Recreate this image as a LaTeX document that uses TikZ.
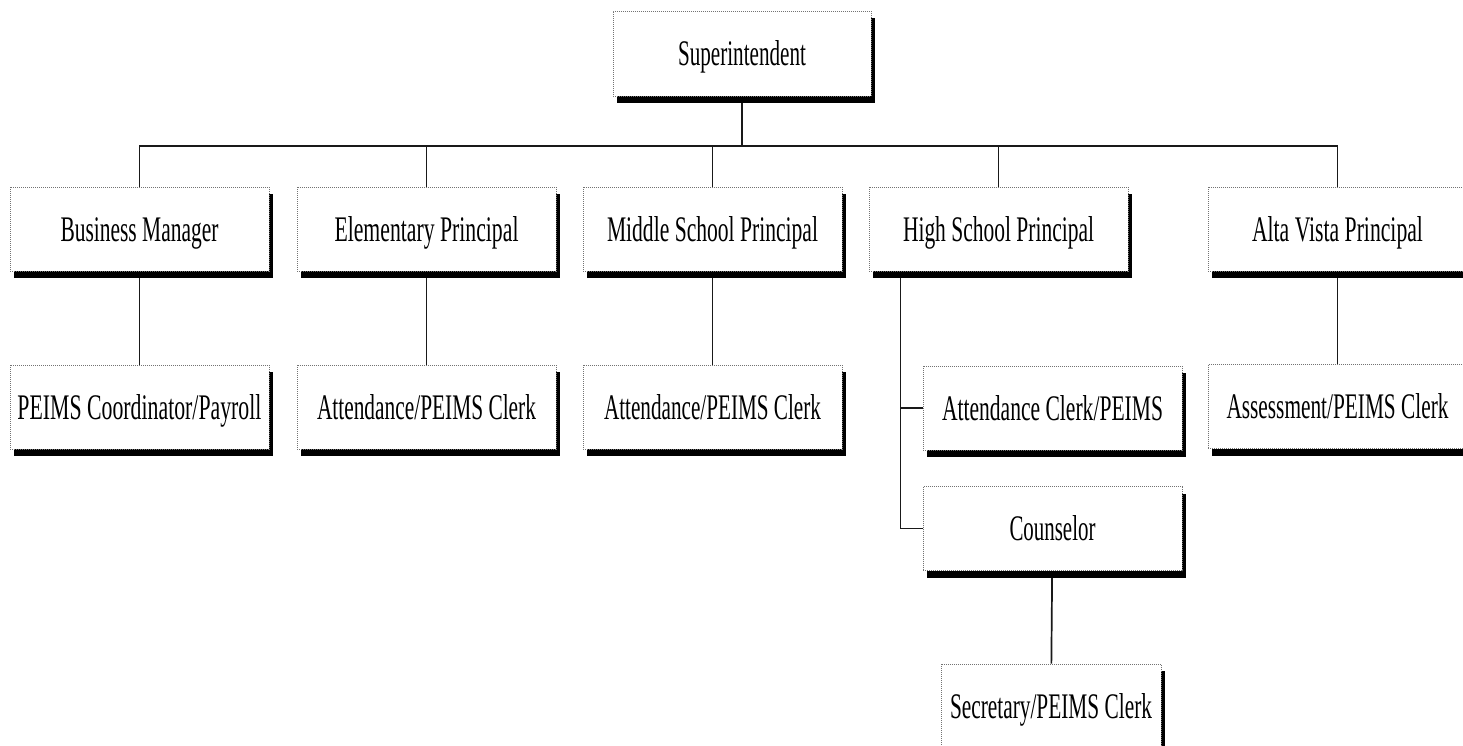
\documentclass[tikz,border=0pt]{standalone}
\usepackage{fontspec}
\setmainfont{Liberation Serif}
\usetikzlibrary{shadows,backgrounds}
% squeeze a label horizontally to a given width, keeping its height
\newcommand\fitw[2]{\resizebox{#1pt}{\height}{#2}}
\tikzset{
  post/.style={draw=black!55, line width=1pt, dash pattern=on 1pt off 1pt,
    fill=white, minimum width=259pt, minimum height=84pt, inner sep=0pt,
    text height=28pt, text depth=4pt, font=\fontsize{36}{40}\selectfont,
    drop shadow={shadow xshift=4pt, shadow yshift=-7pt, fill=black, opacity=1}},
  link/.style={draw=black!90, line width=1.7pt}
}
\begin{document}
\begin{tikzpicture}[x=1pt,y=-1pt]
\useasboundingbox (0,0) rectangle (1463,745);
\clip (0,0) rectangle (1463,745);

% top
\node[post, minimum width=258pt, minimum height=85pt] (sup) at (742,53.5) {\fitw{128}{Superintendent}};

% principals and business office
\node[post] (bm) at (139.5,229) {\fitw{158}{Business Manager}};
\node[post] (ep) at (426.5,229) {\fitw{184}{Elementary Principal}};
\node[post] (ms) at (712.5,229) {\fitw{211}{Middle School Principal}};
\node[post] (hs) at (998.5,229) {\fitw{191}{High School Principal}};
\node[post] (av) at (1337.5,229) {\fitw{171}{Alta Vista Principal}};

% clerks
\node[post] (pc) at (139.5,407) {\fitw{244}{PEIMS Coordinator/Payroll}};
\node[post] (ea) at (426.5,407) {\fitw{219}{Attendance/PEIMS Clerk}};
\node[post] (ma) at (712.5,407) {\fitw{217}{Attendance/PEIMS Clerk}};
\node[post] (ha) at (1052.5,408) {\fitw{221}{Attendance Clerk/PEIMS}};
\node[post] (aa) at (1337.5,406.5) {\fitw{222}{Assessment/PEIMS Clerk}};
\node[post] (cn) at (1052.5,528.5) {\fitw{86}{Counselor}};
\node[post, minimum width=220pt] (sc) at (1051,706) {\fitw{202}{Secretary/PEIMS Clerk}};

\coordinate (bus) at (742,146);
\coordinate (hsx) at ([xshift=32pt]hs.south west);

\begin{scope}[on background layer]
  \fill[white] (0,0) rectangle (1463,745);
  \draw[link] (sup) -- (bus);
  \draw[link] (bm.north) -- (bm.north |- bus) -- (av.north |- bus) -- (av.north);
  \draw[link] (ep.north) -- (ep.north |- bus);
  \draw[link] (ms.north) -- (ms.north |- bus);
  \draw[link] (hs.north) -- (hs.north |- bus);
  \draw[link] (bm) -- (pc);
  \draw[link] (ep) -- (ea);
  \draw[link] (ms) -- (ma);
  \draw[link] (av) -- (aa);
  \draw[link] (hsx) |- (cn.west);
  \draw[link] (ha.west) -| (hsx);
  \draw[link] (cn) -- (sc);
\end{scope}
\end{tikzpicture}
\end{document}
